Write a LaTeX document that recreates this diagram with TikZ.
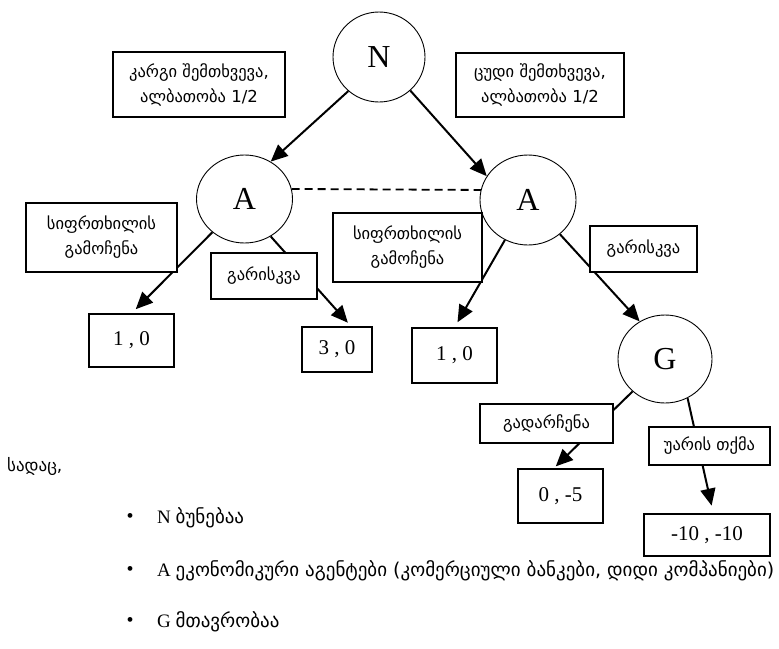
\documentclass[tikz,border=0pt]{standalone}
\usepackage{fontspec}
\setmainfont{Liberation Serif}
\newfontfamily\geo{DejaVu Sans}
\usetikzlibrary{arrows.meta,calc,shapes.geometric}
\begin{document}
\begin{tikzpicture}[x=1pt,y=-1pt,
 circ/.style={draw,ellipse,line width=0.9pt,inner sep=0pt,fill=white,font=\fontsize{32}{32}\selectfont},
 lbl/.style={draw,rectangle,line width=1.1pt,fill=white,inner sep=0pt,align=center,font=\geo\fontsize{16.5}{25}\selectfont},
 pay/.style={draw,rectangle,line width=1.1pt,fill=white,inner sep=0pt,font=\fontsize{21}{21}\selectfont},
 arr/.style={line width=2pt,-{Triangle[length=17pt,width=15pt]}},
 btext/.style={anchor=west,inner sep=0pt,font=\fontsize{19}{19}\selectfont},
 bul/.style={inner sep=0pt,font=\fontsize{20}{20}\selectfont},
 ]
\useasboundingbox[fill=white] (0,0) rectangle (779,648);
% circles
\node[circ,minimum width=92pt,minimum height=90pt] (N) at (379,57) {N};
\node[circ,minimum width=96pt,minimum height=88pt] (A1) at (244.5,199) {A};
\node[circ,minimum width=96pt,minimum height=90pt] (A2) at (528,200) {A};
\node[circ,minimum width=94pt,minimum height=88pt] (G) at (665,359) {G};
% payoff boxes
\node[pay,minimum width=85pt,minimum height=53pt] (b1) at (131.5,340.5) {1 , 0};
\node[pay,minimum width=70pt,minimum height=45pt] (b2) at (337,349.5) {3 , 0};
\node[pay,minimum width=85pt,minimum height=55pt] (b3) at (454.5,355.5) {1 , 0};
\node[pay,minimum width=85pt,minimum height=54pt] (b4) at (560.5,496) {0 , -5};
\node[pay,minimum width=126pt,minimum height=42pt] (b5) at (707,535) {-10 , -10};
% connectors
\draw[arr] (N.228) -- (A1.55);
\draw[arr] (N.313) -- (A2.150);
\draw[line width=1.8pt,dash pattern=on 8pt off 5pt] (A1.12) -- (A2.168);
\draw[arr,shorten >=6pt] (A1.226) -- (b1.north);
\draw[arr,shorten >=5pt] (A1.305) -- ($(b2.north west)!0.7!(b2.north east)$);
\draw[arr,shorten >=6pt] (A2.240) -- (b3.north);
\draw[arr] (A2.313) -- (G.124);
\draw[arr,shorten >=3pt] (G.225) -- ($(b4.north west)!0.42!(b4.north east)$);
\draw[arr,shorten >=8pt] (G.300) -- ($(b5.north west)!0.55!(b5.north east)$);
% label boxes
\node[lbl,minimum width=172pt,minimum height=65pt] (L1) at (199,84.5) {კარგი შემთხვევა,\\ალბათობა 1/2};
\node[lbl,minimum width=168pt,minimum height=64pt] (L2) at (540,85) {ცუდი შემთხვევა,\\ალბათობა 1/2};
\node[lbl,minimum width=151pt,minimum height=69pt] (L3) at (101.5,237.5) {სიფრთხილის\\გამოჩენა};
\node[lbl,minimum width=149pt,minimum height=69pt] (L4) at (407.5,247.5) {სიფრთხილის\\გამოჩენა};
\node[lbl,minimum width=106pt,minimum height=46pt] (L5) at (264,276) {გარისკვა};
\node[lbl,minimum width=107pt,minimum height=46pt] (L6) at (643.5,249) {გარისკვა};
\node[lbl,minimum width=133pt,minimum height=39pt] (L7) at (546.5,423.5) {გადარჩენა};
\node[lbl,minimum width=121pt,minimum height=38pt] (L8) at (709.5,446) {უარის თქმა};
% legend
\node[anchor=west,inner sep=0pt,font=\geo\fontsize{17}{17}\selectfont] (s) at (7,466) {სადაც,};
\node[bul] (u1) at (130,518) {•};
\node[bul] (u2) at (130,571) {•};
\node[bul] (u3) at (130,622) {•};
\node[btext] (t1) at (157,518) {N {\geo ბუნებაა}};
\node[btext] (t2) at (157,571) {A {\geo ეკონომიკური აგენტები (კომერციული ბანკები, დიდი კომპანიები)}};
\node[btext] (t3) at (157,622) {G {\geo მთავრობაა}};
\end{tikzpicture}
\end{document}
